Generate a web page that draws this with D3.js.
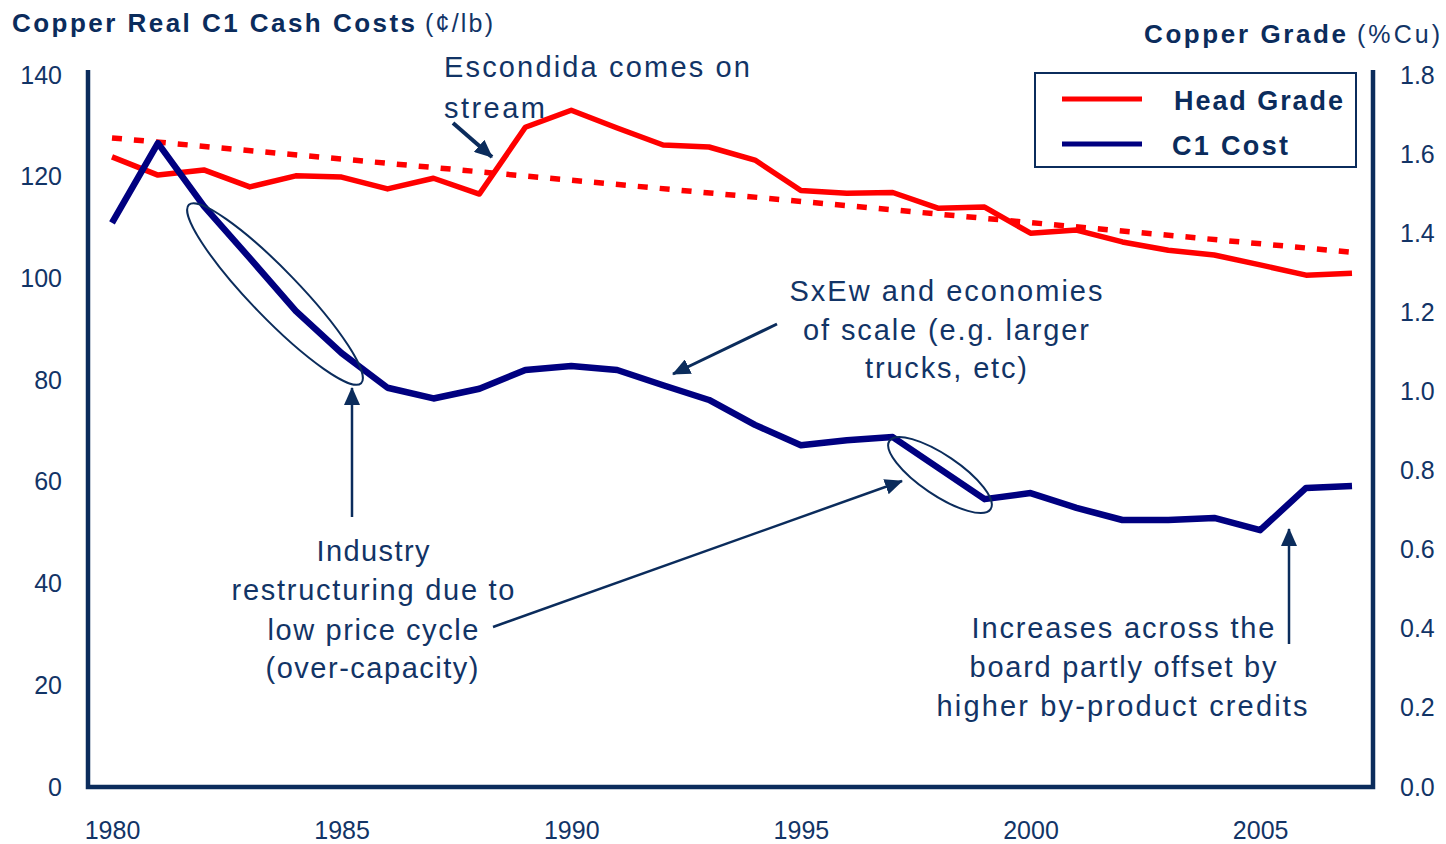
<!DOCTYPE html>
<html><head><meta charset="utf-8">
<script src="https://cdn.jsdelivr.net/npm/d3@7"></script>
<style>
body{margin:0;background:#fff}
svg{display:block}
text{font-family:"Liberation Sans",Arial,Helvetica,sans-serif}
</style>
</head><body>
<svg id="c" width="1446" height="844"></svg>
<script>
// ---------------- data ----------------
const years = [1980,1981,1982,1983,1984,1985,1986,1987,1988,1989,1990,1991,1992,1993,
               1994,1995,1996,1997,1998,1999,2000,2001,2002,2003,2004,2005,2006,2007];
const c1Cost = [110.9,126.6,114.2,104.0,93.6,85.3,78.5,76.4,78.3,82.0,82.8,82.0,79.0,76.1,
                71.2,67.2,68.2,68.8,62.7,56.6,57.8,54.9,52.5,52.5,52.9,50.5,58.8,59.2];
const headGrade = [1.593,1.547,1.560,1.517,1.545,1.542,1.512,1.539,1.499,1.668,1.711,1.666,1.623,1.618,
                   1.585,1.508,1.501,1.503,1.463,1.466,1.400,1.408,1.378,1.357,1.345,1.320,1.294,1.299];
const trendYears = [1980, 2007];
const trendGrade = [1.641, 1.352];
const costTicks = [0,20,40,60,80,100,120,140];
const gradeTicks = [0,0.2,0.4,0.6,0.8,1.0,1.2,1.4,1.6,1.8];
const yearTicks = [1980,1985,1990,1995,2000,2005];
const seriesNames = ["Head Grade","C1 Cost"];

// ---------------- layout ----------------
const NAVY = "#0b2c5c", TXT = "#123466", RED = "#ff0000", BLUE = "#000080";
const svg = d3.select("#c");
const x = d3.scaleLinear().domain([1980,2007]).range([112,1352]);
const yL = d3.scaleLinear().domain([0,140]).range([787,75]);
const yR = d3.scaleLinear().domain([0,1.8]).range([787,75]);

const defs = svg.append("defs");
defs.append("marker").attr("id","ah").attr("markerUnits","userSpaceOnUse")
  .attr("markerWidth",18).attr("markerHeight",16).attr("refX",17).attr("refY",8)
  .attr("orient","auto")
  .append("path").attr("d","M0,0 L18,8 L0,16 Z").attr("fill",NAVY);

// ---------------- axes ----------------
const axL = svg.append("g").attr("transform","translate(88,0)")
  .call(d3.axisLeft(yL).tickValues(costTicks).tickSize(0).tickPadding(26));
const axR = svg.append("g").attr("transform","translate(1373,0)")
  .call(d3.axisRight(yR).tickValues(gradeTicks).tickFormat(d3.format(".1f")).tickSize(0).tickPadding(27));
const axB = svg.append("g").attr("transform","translate(0,787)")
  .call(d3.axisBottom(x).tickValues(yearTicks).tickFormat(d3.format("d")).tickSize(0).tickPadding(34));
[axL,axR,axB].forEach(g=>{
  g.select(".domain").remove();
  g.selectAll("text").attr("font-size",25).attr("fill",TXT)
   .attr("font-family",'"Liberation Sans",Arial,sans-serif');
});
svg.append("path").attr("d","M88,70 V787 H1373 V70")
  .attr("fill","none").attr("stroke",NAVY).attr("stroke-width",4.5);

// ---------------- titles ----------------
function txt(xp, yp, s, size, opts={}){
  const t = svg.append("text").attr("x",xp).attr("y",yp).text(s)
    .attr("font-size",size).attr("fill",opts.fill||TXT)
    .attr("font-weight",opts.bold?"bold":"normal")
    .attr("text-anchor",opts.anchor||"start");
  if(opts.w) t.attr("textLength",opts.w).attr("lengthAdjust","spacing");
  return t;
}
txt(12,32,"Copper Real C1 Cash Costs",26,{bold:true,w:403,fill:"#0b2c5c"});
txt(425,32,"(¢/lb)",25,{w:68});
txt(1144,43,"Copper Grade",26,{bold:true,w:202,fill:"#0b2c5c"});
txt(1357,43,"(%Cu)",25,{w:83});

// ---------------- series ----------------
const lineL = d3.line().x((d,i)=>x(years[i])).y(d=>yL(d));
const lineR = d3.line().x((d,i)=>x(years[i])).y(d=>yR(d));
const lineT = d3.line().x((d,i)=>x(trendYears[i])).y(d=>yR(d));

svg.append("path").datum(trendGrade).attr("d",lineT)
  .attr("fill","none").attr("stroke",RED).attr("stroke-width",5.5)
  .attr("stroke-dasharray","10,12");
svg.append("path").datum(headGrade).attr("d",lineR)
  .attr("fill","none").attr("stroke",RED).attr("stroke-width",5.5)
  .attr("stroke-linejoin","round");
svg.append("path").datum(c1Cost).attr("d",lineL)
  .attr("fill","none").attr("stroke",BLUE).attr("stroke-width",6.5)
  .attr("stroke-linejoin","round");

// ---------------- legend ----------------
const lg = svg.append("g");
lg.append("rect").attr("x",1035).attr("y",73).attr("width",321).attr("height",94)
  .attr("fill","#fff").attr("stroke",NAVY).attr("stroke-width",2);
const legColors = [RED, BLUE];
seriesNames.forEach((n,i)=>{
  const yy = 99 + i*45;
  lg.append("line").attr("x1",1062).attr("x2",1142).attr("y1",yy).attr("y2",yy)
    .attr("stroke",legColors[i]).attr("stroke-width",5);
});
txt(1174,110,seriesNames[0],27,{bold:true,w:169,fill:"#0b2c5c"});
txt(1172,155,seriesNames[1],27,{bold:true,w:116,fill:"#0b2c5c"});

// ---------------- annotations ----------------
function ell(cx,cy,rx,ry,ang){
  svg.append("ellipse").attr("cx",0).attr("cy",0).attr("rx",rx).attr("ry",ry)
    .attr("transform",`translate(${cx},${cy}) rotate(${ang})`)
    .attr("fill","none").attr("stroke",NAVY).attr("stroke-width",2);
}
ell(275,294,124,24,46);
ell(940,475,61,20,34);

function arrow(x1,y1,x2,y2,w){
  svg.append("line").attr("x1",x1).attr("y1",y1).attr("x2",x2).attr("y2",y2)
    .attr("stroke",NAVY).attr("stroke-width",w||2.5).attr("marker-end","url(#ah)");
}
arrow(453,123,492,157,4);
arrow(777,324,673,374,3);
arrow(352,517,352,388,2.5);
arrow(493,627,902,481,2.5);
arrow(1289,644,1289,529,2.5);

const A = 29;
txt(444,77,"Escondida comes on",A,{w:306});
txt(444,118,"stream",A,{w:101});

txt(946,301,"SxEw and economies",A,{anchor:"middle",w:313});
txt(946,340,"of scale (e.g. larger",A,{anchor:"middle",w:286});
txt(946,378,"trucks, etc)",A,{anchor:"middle",w:162});

txt(373,561,"Industry",A,{anchor:"middle",w:113});
txt(373,600,"restructuring due to",A,{anchor:"middle",w:283});
txt(373,640,"low price cycle",A,{anchor:"middle",w:211});
txt(372,678,"(over-capacity)",A,{anchor:"middle",w:213});

txt(1123,638,"Increases across the",A,{anchor:"middle",w:303});
txt(1123,677,"board partly offset by",A,{anchor:"middle",w:307});
txt(1122,716,"higher  by-product credits",A,{anchor:"middle",w:371});
</script>
</body></html>
